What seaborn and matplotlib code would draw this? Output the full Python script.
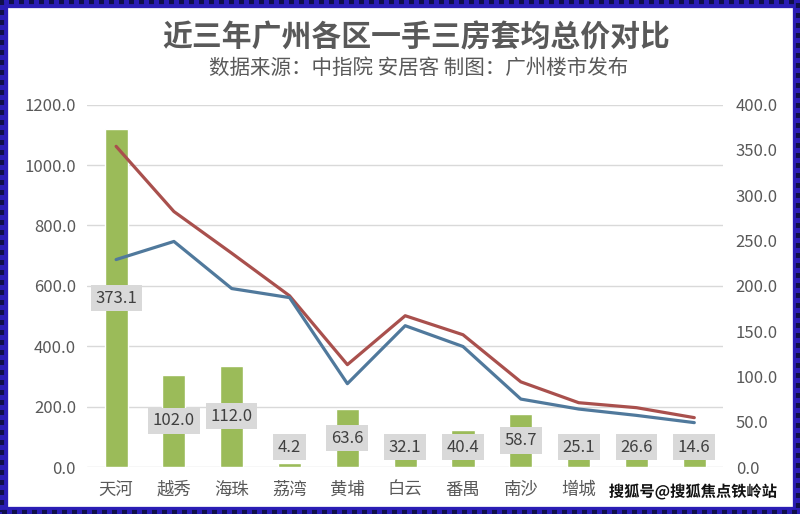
import numpy as np
import pandas as pd
import matplotlib
matplotlib.use("Agg")
import matplotlib.pyplot as plt
import seaborn as sns
from matplotlib.patches import Rectangle
import matplotlib.patheffects as pe

# data
districts = ['天河', '越秀', '海珠', '荔湾', '黄埔', '白云', '番禺', '南沙', '增城', '花都', '从化']
bar_vals = [373.1, 102.0, 112.0, 4.2, 63.6, 32.1, 40.4, 58.7, 25.1, 26.6, 14.6]
red_vals = [354, 282, 236, 189, 113, 167, 146, 94, 71, 65.5, 54.5]
blue_vals = [229, 249, 197, 187, 92, 156, 133, 75, 64, 57, 49]

left_ticks = [0, 200, 400, 600, 800, 1000, 1200]
right_ticks = [0, 50, 100, 150, 200, 250, 300, 350, 400]

# the last two district names sit under the watermark in the source image
hidden = ['花都', '从化']

GREEN = '#9bbb59'
RED = '#a9504d'
BLUE = '#50799c'
GRAY = '#595959'

sns.set_theme(style='white')
plt.rcParams['font.family'] = ['Noto Sans CJK SC', 'DejaVu Sans']

df = pd.DataFrame({'district': districts, 'bar': bar_vals,
                   'red': red_vals, 'blue': blue_vals})

fig = plt.figure(figsize=(8, 5.14), dpi=100)
ax = fig.add_axes([0.109, 0.0914, 0.795, 0.705])
ax2 = ax.twinx()

# left axis: only gridlines and ticks
ax.set_ylim(0, 1200)
ax.set_yticks(left_ticks)
ax.set_yticklabels(['{:.1f}'.format(t) for t in left_ticks])
ax.grid(axis='y', color='#d9d9d9', linewidth=1)
ax.grid(axis='x', visible=False)

# bars + lines on the right axis
sns.barplot(data=df, x='district', y='bar', ax=ax2, color=GREEN,
            width=0.4, saturation=1)
sns.lineplot(data=df, x='district', y='red', ax=ax2, color=RED,
             linewidth=2.3, sort=False)
sns.lineplot(data=df, x='district', y='blue', ax=ax2, color=BLUE,
             linewidth=2.3, sort=False)
ax2.set_ylim(0, 400)
ax2.set_yticks(right_ticks)
ax2.set_yticklabels(['{:.1f}'.format(t) for t in right_ticks])
ax2.set_xlim(-0.5, len(districts) - 0.5)
ax2.set_xlabel('')
ax2.set_ylabel('')
ax.set_xlabel('')
ax.set_ylabel('')

ax.set_xticks(range(len(districts)))
ax.set_xticklabels(['' if d in hidden else d for d in districts])

for a in (ax, ax2):
    for s in a.spines.values():
        s.set_visible(False)
    a.tick_params(length=0, colors=GRAY, labelsize=12)
ax.tick_params(axis='y', pad=8)
ax2.tick_params(axis='y', pad=9)
ax.tick_params(axis='x', pad=10, labelsize=12.5)

# value labels in the middle of bars (small bars get lifted a bit)
for i, v in enumerate(bar_vals):
    ax2.text(i, max(v / 2, 22), '{:.1f}'.format(v), ha='center', va='center',
             fontsize=12, color='#404040',
             bbox=dict(boxstyle='square,pad=0.28', facecolor='#d9d9d9',
                       edgecolor='none'))

fig.text(0.52, 0.927, '近三年广州各区一手三房套均总价对比', ha='center', va='center',
         fontsize=21.5, fontweight='bold', color=GRAY)
fig.text(0.523, 0.868, '数据来源：中指院 安居客 制图：广州楼市发布', ha='center',
         va='center', fontsize=14.8, color=GRAY)

# watermark at bottom right
fig.text(0.866, 0.043, '搜狐号@搜狐焦点铁岭站', ha='center', va='center',
         fontsize=11, color='#111111', fontweight='bold',
         path_effects=[pe.withStroke(linewidth=2.5, foreground='white')])

# blue dotted frame around the picture
fig.patches.append(Rectangle((0, 0), 1, 1, transform=fig.transFigure,
                             fill=False, edgecolor='#2a1db5', linewidth=11))
fig.patches.append(Rectangle((0.003, 0.004), 0.994, 0.992, transform=fig.transFigure,
                             fill=False, edgecolor='#10104a', linewidth=3,
                             linestyle=(0, (1.2, 1.2))))

fig.savefig('out.png', dpi=100)
